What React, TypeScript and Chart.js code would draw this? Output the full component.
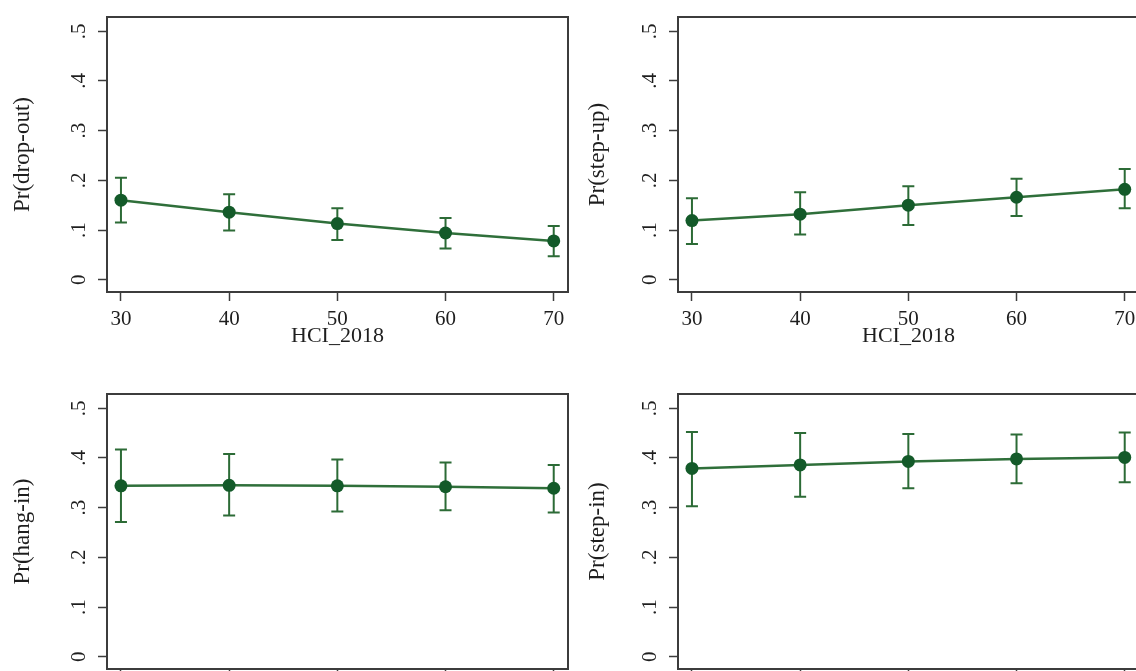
import React, { useEffect, useRef } from 'react';
import { Chart, registerables } from 'chart.js';

Chart.register(...registerables);

// ---- data ----
const hciValues = [30, 40, 50, 60, 70];
const xTickValues = [30, 40, 50, 60, 70];
const xTickLabels = ['30', '40', '50', '60', '70'];
const yTickValues = [0, 0.1, 0.2, 0.3, 0.4, 0.5];
const yTickLabels = ['0', '.1', '.2', '.3', '.4', '.5'];

const dropOut = [0.16, 0.136, 0.113, 0.094, 0.078];
const dropOutLow = [0.115, 0.099, 0.08, 0.063, 0.047];
const dropOutHigh = [0.205, 0.172, 0.144, 0.124, 0.108];

const stepUp = [0.119, 0.132, 0.15, 0.166, 0.182];
const stepUpLow = [0.072, 0.091, 0.11, 0.128, 0.144];
const stepUpHigh = [0.164, 0.176, 0.188, 0.203, 0.223];

const hangIn = [0.344, 0.345, 0.344, 0.342, 0.339];
const hangInLow = [0.271, 0.284, 0.292, 0.295, 0.29];
const hangInHigh = [0.417, 0.408, 0.397, 0.391, 0.386];

const stepIn = [0.379, 0.386, 0.393, 0.398, 0.401];
const stepInLow = [0.303, 0.322, 0.339, 0.349, 0.351];
const stepInHigh = [0.452, 0.45, 0.448, 0.447, 0.451];

const xTitle = 'HCI_2018';

// ---- styles ----
const FONT = "'Liberation Serif', 'Times New Roman', serif";
const TEXT = '#1e1e1e';
const AXIS = '#3c3c3c';
const LINE = '#2f6f3a';
const MARK = '#135a29';
const ERR = '#2c6b36';
const CW = 580;
const CH = 350;

type Panel = {
  title: string;
  values: number[];
  low: number[];
  high: number[];
  left: number;
  top: number;
  titlePad: number;
};

const panels: Panel[] = [
  { title: 'Pr(drop-out)', values: dropOut, low: dropOutLow, high: dropOutHigh, left: 0, top: 0, titlePad: 9 },
  { title: 'Pr(step-up)', values: stepUp, low: stepUpLow, high: stepUpHigh, left: 570.5, top: 0, titlePad: 13 },
  { title: 'Pr(hang-in)', values: hangIn, low: hangInLow, high: hangInHigh, left: 0, top: 376.5, titlePad: 9 },
  { title: 'Pr(step-in)', values: stepIn, low: stepInLow, high: stepInHigh, left: 570.5, top: 376.5, titlePad: 13 },
];

function makeChart(canvas: HTMLCanvasElement, p: Panel) {
  const errorBars = {
    id: 'errorBars',
    beforeDatasetsDraw(chart: any) {
      const { ctx, scales } = chart;
      const x = scales.x;
      const y = scales.y;
      const cap = 6;
      ctx.save();
      ctx.strokeStyle = ERR;
      ctx.lineWidth = 2;
      hciValues.forEach((v, i) => {
        const px = x.getPixelForValue(v);
        const pl = y.getPixelForValue(p.low[i]);
        const ph = y.getPixelForValue(p.high[i]);
        ctx.beginPath();
        ctx.moveTo(px, pl);
        ctx.lineTo(px, ph);
        ctx.moveTo(px - cap, pl);
        ctx.lineTo(px + cap, pl);
        ctx.moveTo(px - cap, ph);
        ctx.lineTo(px + cap, ph);
        ctx.stroke();
      });
      ctx.restore();
    },
  };
  const frame = {
    id: 'frame',
    afterDraw(chart: any) {
      const { ctx, chartArea } = chart;
      ctx.save();
      ctx.strokeStyle = AXIS;
      ctx.lineWidth = 2;
      ctx.beginPath();
      ctx.moveTo(chartArea.left, chartArea.top);
      ctx.lineTo(chartArea.right, chartArea.top);
      ctx.lineTo(chartArea.right, chartArea.bottom);
      ctx.stroke();
      ctx.restore();
    },
  };

  return new Chart(canvas, {
    type: 'line',
    data: {
      datasets: [
        {
          data: hciValues.map((x, i) => ({ x, y: p.values[i] })),
          borderColor: LINE,
          borderWidth: 2.5,
          pointRadius: 6.5,
          pointBackgroundColor: MARK,
          pointBorderColor: MARK,
          pointBorderWidth: 0,
          tension: 0,
          fill: false,
        },
      ],
    },
    options: {
      responsive: false,
      animation: false,
      events: [],
      layout: { padding: { top: 17, right: 12, left: 0, bottom: 0 } },
      plugins: {
        legend: { display: false },
        tooltip: { enabled: false },
      },
      scales: {
        x: {
          type: 'linear',
          min: 28.71,
          max: 71.32,
          afterBuildTicks: (s: any) => {
            s.ticks = xTickValues.map((v) => ({ value: v }));
          },
          afterFit: (s: any) => {
            s.height = 58;
            s.paddingLeft = 0;
            s.paddingRight = 0;
          },
          ticks: {
            autoSkip: false,
            maxRotation: 0,
            minRotation: 0,
            padding: 6,
            color: TEXT,
            font: { family: FONT, size: 21 },
            callback: (_v: any, i: number) => xTickLabels[i],
          },
          grid: {
            display: true,
            drawOnChartArea: false,
            drawTicks: true,
            tickLength: 9,
            tickWidth: 1.5,
            tickColor: AXIS,
          },
          border: { display: true, color: AXIS, width: 2 },
          title: {
            display: true,
            text: xTitle,
            color: TEXT,
            font: { family: FONT, size: 22, lineHeight: 1.2 },
            padding: { top: 0, bottom: 1 },
          },
        },
        y: {
          type: 'linear',
          min: -0.0247,
          max: 0.5287,
          afterBuildTicks: (s: any) => {
            s.ticks = yTickValues.map((v) => ({ value: v }));
          },
          afterFit: (s: any) => {
            s.width = 107;
            s.paddingTop = 0;
            s.paddingBottom = 0;
          },
          ticks: {
            autoSkip: false,
            minRotation: 90,
            maxRotation: 90,
            crossAlign: 'center',
            padding: 11,
            color: TEXT,
            font: { family: FONT, size: 21 },
            callback: (_v: any, i: number) => yTickLabels[i],
          },
          grid: {
            display: true,
            drawOnChartArea: false,
            drawTicks: true,
            tickLength: 9,
            tickWidth: 1.5,
            tickColor: AXIS,
          },
          border: { display: true, color: AXIS, width: 2 },
          title: {
            display: true,
            text: p.title,
            color: TEXT,
            font: { family: FONT, size: 23, lineHeight: 1.2 },
            padding: { top: p.titlePad, bottom: 0 },
          },
        },
      },
    } as any,
    plugins: [errorBars, frame],
  });
}

export default function App() {
  const refs = useRef<(HTMLCanvasElement | null)[]>([]);

  useEffect(() => {
    const charts = panels.map((p, i) => makeChart(refs.current[i] as HTMLCanvasElement, p));
    return () => charts.forEach((c) => c.destroy());
  }, []);

  return (
    <div
      style={{
        position: 'absolute',
        left: 0,
        top: 0,
        width: 1136,
        height: 671,
        overflow: 'hidden',
        background: '#ffffff',
      }}
    >
      {panels.map((p, i) => (
        <canvas
          key={p.title}
          ref={(el) => {
            refs.current[i] = el;
          }}
          width={CW}
          height={CH}
          style={{ position: 'absolute', left: p.left, top: p.top, width: CW, height: CH }}
        />
      ))}
    </div>
  );
}
